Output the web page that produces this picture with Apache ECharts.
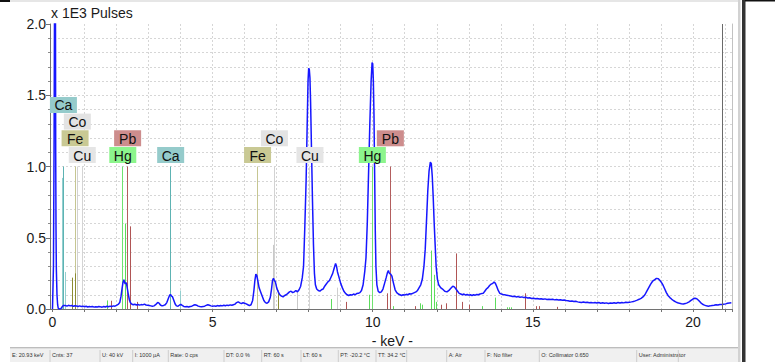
<!DOCTYPE html>
<html><head><meta charset="utf-8">
<script src="https://cdn.jsdelivr.net/npm/echarts@6/dist/echarts.min.js"></script>
<style>html,body{margin:0;padding:0;background:#fff}#c{width:775px;height:362px}</style>
</head><body><div id="c"></div>
<script>
// ---------- DATA ----------
const titleText = 'x 1E3 Pulses';
const xAxisName = '- keV -';
const keVMax = 21.22;           // right end of energy axis
const cursorKeV = 20.93;        // cursor marker
const yTicks = [0, 0.5, 1.0, 1.5, 2.0];

// spectrum [keV, x1E3 pulses]
const spectrumPoints = [
[0.00,0.00],[0.03,0.30],[0.05,1.20],[0.07,2.60],[0.09,2.40],[0.10,1.10],[0.11,0.55],[0.12,0.28],[0.14,0.10],[0.16,0.03],[0.18,0.005],[0.22,0.0],[0.26,0.002],[0.30,0.015],[0.34,0.025],
[0.40,0.024],[0.45,0.020],[0.50,0.026],[0.55,0.022],[0.60,0.025],[0.65,0.019],[0.70,0.023],[0.75,0.021],[0.80,0.018],[0.85,0.022],[0.90,0.017],[0.95,0.020],[1.00,0.016],[1.05,0.019],[1.10,0.014],[1.15,0.018],[1.20,0.015],[1.25,0.017],[1.30,0.013],[1.35,0.016],[1.40,0.014],[1.45,0.018],[1.50,0.015],[1.55,0.013],[1.60,0.017],[1.65,0.014],[1.70,0.019],[1.75,0.016],[1.80,0.020],[1.85,0.018],[1.90,0.022],[1.95,0.020],
[2.00,0.026],[2.05,0.032],[2.10,0.045],[2.14,0.09],[2.17,0.14],[2.20,0.185],[2.23,0.205],[2.25,0.19],[2.27,0.175],[2.29,0.185],[2.31,0.18],[2.34,0.14],[2.37,0.10],[2.40,0.065],[2.43,0.045],[2.47,0.035],[2.52,0.03],[2.57,0.033],[2.62,0.028],[2.67,0.032],[2.72,0.027],[2.77,0.031],[2.82,0.029],[2.87,0.034],[2.92,0.028],[2.97,0.026],
[3.02,0.024],[3.07,0.022],[3.12,0.02],[3.17,0.022],[3.22,0.03],[3.27,0.042],[3.30,0.046],[3.33,0.04],[3.37,0.028],[3.42,0.022],[3.47,0.025],[3.52,0.03],[3.57,0.045],[3.62,0.075],[3.66,0.098],[3.69,0.10],[3.72,0.09],[3.75,0.085],[3.79,0.06],[3.83,0.035],[3.87,0.022],[3.92,0.02],[3.97,0.028],
[4.01,0.032],[4.05,0.025],[4.10,0.018],[4.15,0.015],[4.20,0.017],[4.25,0.014],[4.30,0.018],[4.35,0.02],[4.40,0.026],[4.45,0.03],[4.50,0.027],[4.55,0.02],[4.60,0.017],[4.65,0.015],[4.70,0.018],[4.75,0.02],[4.80,0.025],[4.85,0.03],[4.90,0.026],[4.95,0.022],
[5.00,0.02],[5.05,0.022],[5.10,0.019],[5.15,0.024],[5.20,0.021],[5.25,0.025],[5.30,0.022],[5.35,0.026],[5.40,0.023],[5.45,0.027],[5.50,0.025],[5.55,0.029],[5.60,0.026],[5.65,0.03],[5.70,0.034],[5.75,0.045],[5.80,0.05],[5.85,0.043],[5.90,0.038],[5.95,0.044],
[6.00,0.04],[6.05,0.036],[6.10,0.03],[6.15,0.024],[6.20,0.03],[6.25,0.06],[6.29,0.13],[6.32,0.2],[6.35,0.245],[6.38,0.235],[6.41,0.2],[6.45,0.15],[6.50,0.12],[6.55,0.09],[6.60,0.06],[6.65,0.045],[6.70,0.04],[6.75,0.05],[6.80,0.08],[6.84,0.14],[6.87,0.2],[6.90,0.215],[6.93,0.2],[6.96,0.19],
[7.00,0.15],[7.05,0.12],[7.10,0.1],[7.15,0.09],[7.20,0.085],[7.25,0.095],[7.30,0.1],[7.35,0.11],[7.40,0.12],[7.45,0.125],[7.50,0.115],[7.55,0.12],[7.60,0.13],[7.65,0.12],[7.70,0.135],[7.75,0.16],[7.80,0.22],[7.84,0.3],[7.88,0.58],[7.92,0.9],[7.95,1.25],[7.98,1.6],
[8.00,1.69],[8.02,1.68],[8.04,1.62],[8.06,1.45],[8.09,1.1],[8.12,0.75],[8.15,0.45],[8.18,0.25],[8.21,0.17],[8.25,0.14],[8.30,0.13],[8.35,0.125],[8.40,0.135],[8.45,0.14],[8.50,0.16],[8.55,0.175],[8.60,0.19],[8.65,0.2],[8.70,0.225],[8.75,0.25],[8.80,0.29],[8.84,0.32],[8.87,0.3],[8.90,0.26],[8.95,0.22],
[9.00,0.18],[9.05,0.15],[9.10,0.125],[9.15,0.11],[9.20,0.1],[9.25,0.095],[9.30,0.1],[9.35,0.098],[9.40,0.105],[9.45,0.1],[9.50,0.108],[9.55,0.11],[9.60,0.115],[9.65,0.13],[9.70,0.17],[9.75,0.26],[9.79,0.36],[9.83,0.6],[9.87,0.95],[9.91,1.3],[9.95,1.6],[9.98,1.73],
[10.00,1.72],[10.02,1.6],[10.04,1.35],[10.06,0.95],[10.08,0.55],[10.10,0.3],[10.13,0.17],[10.17,0.125],[10.22,0.115],[10.27,0.12],[10.32,0.14],[10.37,0.18],[10.42,0.22],[10.46,0.255],[10.49,0.27],[10.52,0.25],[10.56,0.245],[10.60,0.23],[10.65,0.18],[10.70,0.135],[10.75,0.115],[10.80,0.105],[10.85,0.1],[10.90,0.095],[10.95,0.1],
[11.00,0.098],[11.05,0.103],[11.10,0.1],[11.15,0.107],[11.20,0.105],[11.25,0.11],[11.30,0.115],[11.35,0.12],[11.40,0.13],[11.45,0.15],[11.50,0.17],[11.55,0.21],[11.60,0.3],[11.64,0.42],[11.68,0.62],[11.72,0.83],[11.76,0.97],[11.80,1.03],[11.83,1.02],[11.86,0.93],[11.89,0.78],[11.92,0.6],[11.95,0.45],[11.98,0.3],
[12.02,0.21],[12.06,0.17],[12.12,0.15],[12.18,0.14],[12.25,0.125],[12.32,0.12],[12.38,0.13],[12.44,0.145],[12.50,0.16],[12.55,0.155],[12.60,0.14],[12.65,0.125],[12.70,0.11],[12.75,0.105],[12.80,0.1],[12.85,0.105],[12.90,0.098],[12.95,0.102],
[13.00,0.097],[13.05,0.1],[13.10,0.095],[13.15,0.1],[13.20,0.097],[13.25,0.102],[13.30,0.1],[13.35,0.105],[13.40,0.108],[13.45,0.11],[13.50,0.125],[13.55,0.14],[13.60,0.15],[13.65,0.165],[13.70,0.175],[13.75,0.18],[13.79,0.19],[13.83,0.18],[13.87,0.16],[13.92,0.13],[13.97,0.11],
[14.02,0.105],[14.07,0.102],[14.12,0.1],[14.18,0.097],[14.24,0.094],[14.30,0.092],[14.36,0.088],[14.42,0.09],[14.48,0.085],[14.54,0.087],[14.60,0.082],[14.66,0.085],[14.72,0.08],[14.78,0.082],[14.84,0.077],[14.90,0.079],[14.96,0.074],
[15.02,0.076],[15.08,0.072],[15.14,0.074],[15.20,0.07],[15.26,0.072],[15.32,0.068],[15.38,0.071],[15.44,0.067],[15.50,0.069],[15.56,0.066],[15.62,0.068],[15.68,0.064],[15.74,0.067],[15.80,0.063],[15.86,0.065],[15.92,0.061],[15.98,0.063],
[16.04,0.059],[16.10,0.058],[16.16,0.055],[16.22,0.056],[16.28,0.052],[16.34,0.054],[16.40,0.05],[16.46,0.048],[16.52,0.046],[16.58,0.049],[16.64,0.045],[16.70,0.047],[16.76,0.044],[16.82,0.046],[16.88,0.043],[16.94,0.045],
[17.00,0.042],[17.06,0.045],[17.12,0.041],[17.18,0.044],[17.24,0.04],[17.30,0.043],[17.36,0.039],[17.42,0.042],[17.48,0.04],[17.54,0.044],[17.60,0.041],[17.66,0.045],[17.72,0.042],[17.78,0.046],[17.84,0.043],[17.90,0.047],[17.96,0.045],
[18.02,0.048],[18.08,0.05],[18.14,0.053],[18.20,0.057],[18.26,0.062],[18.32,0.068],[18.38,0.075],[18.44,0.085],[18.50,0.1],[18.56,0.125],[18.62,0.15],[18.68,0.175],[18.74,0.195],[18.80,0.205],[18.86,0.215],[18.92,0.212],[18.97,0.2],
[19.02,0.185],[19.07,0.165],[19.12,0.14],[19.17,0.115],[19.22,0.095],[19.28,0.08],[19.34,0.068],[19.40,0.058],[19.46,0.05],[19.52,0.044],[19.58,0.04],[19.64,0.037],[19.70,0.035],[19.76,0.038],[19.82,0.043],[19.88,0.05],[19.94,0.06],
[20.00,0.07],[20.06,0.076],[20.12,0.072],[20.18,0.06],[20.24,0.045],[20.30,0.033],[20.36,0.027],[20.42,0.022],[20.48,0.02],[20.54,0.022],[20.60,0.025],[20.66,0.027],[20.72,0.03],[20.78,0.028],[20.84,0.032],[20.90,0.031],[20.96,0.034],
[21.02,0.036],[21.08,0.04],[21.14,0.042],[21.20,0.044],[21.22,0.045]
];

// element lines [element, keV, relative height]
const elementLines = [
['Ca',0.302,0.92],['Ca',0.341,1.0],['Ca',0.42,0.26],['Ca',3.69,1.0],['Ca',4.01,0.13],
['Fe',0.615,0.22],['Fe',0.705,1.0],['Fe',0.718,0.25],['Fe',6.391,0.51],['Fe',6.404,1.0],['Fe',7.058,0.13],
['Co',0.776,1.0],['Co',0.79,0.31],['Co',6.915,0.45],['Co',6.93,1.0],['Co',7.65,0.13],
['Cu',0.93,1.0],['Cu',0.95,0.13],['Cu',8.04,1.0],['Cu',8.905,0.15],
['Hg',1.71,0.06],['Hg',2.195,1.0],['Hg',2.282,0.6],['Hg',8.722,0.07],['Hg',9.898,0.1],['Hg',9.989,1.0],['Hg',10.65,0.02],['Hg',11.48,0.04],['Hg',11.56,0.03],['Hg',11.823,0.41],['Hg',11.924,0.24],['Hg',12.0,0.05],['Hg',13.42,0.02],['Hg',13.83,0.08],['Hg',14.2,0.012],['Hg',14.26,0.012],['Hg',14.32,0.012],
['Pb',1.84,0.058],['Pb',2.346,1.0],['Pb',2.443,0.58],['Pb',2.65,0.05],['Pb',9.185,0.05],['Pb',10.45,0.11],['Pb',10.551,1.0],['Pb',11.35,0.02],['Pb',12.14,0.03],['Pb',12.306,0.04],['Pb',12.614,0.39],['Pb',12.62,0.245],['Pb',12.79,0.05],['Pb',13.01,0.03],['Pb',14.765,0.11],['Pb',15.1,0.02],['Pb',15.2,0.02],['Pb',15.78,0.015]
];
const labelOrder = ['Cu','Hg','Fe','Pb','Co','Ca'];

const statusItems = ['E: 20.93 keV','Cnts: 37','U: 40 kV','I: 1000 µA','Rate: 0 cps','DT: 0.0 %','RT: 60 s','LT: 60 s','PT: -20.2 °C','TT: 34.2 °C','','A: Air','F: No filter','O: Collimator 0.650','User: Administrator',''];

// ---------- STYLE / LAYOUT ----------
const FONT = '"Liberation Sans", Arial, sans-serif';
const elementStyle = {
  Ca:{box:'#95cbcb', main:'#5db3b3', minor:'#93cfcf'},
  Co:{box:'#e3e3e3', main:'#d2d2d2', minor:'#c9c9c9'},
  Fe:{box:'#c9c994', main:'#c6c692', minor:'#8b8b32'},
  Cu:{box:'#e5e5e5', main:'#d4d4d4', minor:'#cfcfcf'},
  Hg:{box:'#8cf58c', main:'#6fe36f', minor:'#5cdc5c'},
  Pb:{box:'#cd8d8d', main:'#b35e5e', minor:'#b05555'}
};
const statusCells = [10,50,100,132.7,168.3,224,261.7,301,338.3,376,406.7,446.7,485,539.3,636.7,678.3];
const statusEnd = 738;
const BOX_W = 27, BOX_H = 16, ROW_STEP = 16.7, BOX_GAP = 3.5;

const labels = [];
labelOrder.forEach(el => elementLines.forEach(l => { if (l[0] === el && l[2] >= 1) labels.push({el, keV: l[1]}); }));

let rowCache = null;
function computeRows(api) {
  const placed = [];
  return labels.map(lb => {
    const cx = api.coord([lb.keV, 0])[0];
    const x0 = cx - BOX_W / 2, x1 = cx + BOX_W / 2;
    let row = 0;
    while (placed.some(p => p.row === row && p.x0 < x1 && x0 < p.x1)) row++;
    placed.push({row, x0, x1});
    return row;
  });
}

const graphics = [];
graphics.push({type:'rect', shape:{x:0,y:0,width:738,height:2}, style:{fill:'#e6e6e6'}, silent:true});
graphics.push({type:'rect', shape:{x:0,y:0,width:10,height:2}, style:{fill:'#111'}, silent:true});
graphics.push({type:'rect', shape:{x:738,y:0,width:2.5,height:362}, style:{fill:'#d2d2d2'}, silent:true});
graphics.push({type:'rect', shape:{x:742,y:0,width:3.5,height:362}, style:{fill:'#333'}, silent:true});
graphics.push({type:'rect', shape:{x:745,y:0,width:30,height:1.5}, style:{fill:'#111'}, silent:true});
graphics.push({type:'rect', shape:{x:10,y:347,width:728,height:1.6}, style:{fill:'#bdbdbd'}, silent:true});
graphics.push({type:'rect', shape:{x:10,y:349,width:728,height:13}, style:{fill:'#f0f0f0'}, silent:true});
statusItems.forEach((t, i) => {
  const x = statusCells[i];
  if (i > 0) graphics.push({type:'rect', shape:{x:x-0.5,y:350,width:1,height:12}, style:{fill:'#cdcdcd'}, silent:true});
  if (t) graphics.push({type:'text', x:x+2, y:355, style:{text:t, font:'5.5px ' + FONT, fill:'#333', verticalAlign:'middle'}, silent:true});
});

const dashed = {color:'#d6d6d6', type:[2,2], width:1};

const option = {
  animation:false,
  backgroundColor:'#fff',
  title:{text:titleText, left:51, top:6, padding:0, textStyle:{fontSize:14, fontWeight:'normal', color:'#1a1a1a', fontFamily:FONT}},
  grid:[
    {left:50, top:24, width:682, height:285},
    {left:52.5, top:24, width:679.5, height:285}
  ],
  xAxis:[
    {gridIndex:0, type:'value', min:0, max:1, position:'top',
     axisLine:{show:true, lineStyle:{color:'#727272'}}, axisTick:{show:false}, axisLabel:{show:false}, splitLine:{show:false}},
    {gridIndex:1, type:'value', min:0, max:keVMax, interval:1, position:'bottom',
     axisLine:{show:true, onZero:false, lineStyle:{color:'#727272'}},
     axisTick:{show:true, length:3, lineStyle:{color:'#727272'}},
     axisLabel:{margin:6, fontSize:14, color:'#1a1a1a', fontFamily:FONT,
       formatter: v => (Math.abs(v - 5*Math.round(v/5)) < 1e-6 ? String(Math.round(v)) : '')},
     splitLine:{show:true, showMinLine:false, showMaxLine:false, lineStyle:dashed},
     name:xAxisName, nameLocation:'middle', nameGap:22,
     nameTextStyle:{fontSize:14, color:'#1a1a1a', fontFamily:FONT}}
  ],
  yAxis:[
    {gridIndex:0, type:'value', min:yTicks[0], max:yTicks[yTicks.length-1], interval:0.5, position:'left',
     axisLine:{show:true, lineStyle:{color:'#727272'}},
     axisTick:{show:true, length:4, lineStyle:{color:'#727272'}},
     minorTick:{show:true, splitNumber:5, length:2, lineStyle:{color:'#8a8a8a'}},
     axisLabel:{margin:4, fontSize:14, color:'#1a1a1a', fontFamily:FONT, formatter: v => v.toFixed(1)},
     splitLine:{show:true, showMinLine:false, showMaxLine:false, lineStyle:dashed},
     minorSplitLine:{show:true, lineStyle:dashed}},
    {gridIndex:0, type:'value', min:0, max:2, position:'right',
     axisLine:{show:true, lineStyle:{color:'#c2c2c2'}}, axisTick:{show:false}, axisLabel:{show:false}, splitLine:{show:false}},
    {gridIndex:1, type:'value', min:0, max:2, show:false}
  ],
  series:[
    {
      type:'custom', xAxisIndex:1, yAxisIndex:2, z:2, clip:true, silent:true,
      data: elementLines.map(l => [l[1], l[2]]),
      renderItem(params, api) {
        const l = elementLines[params.dataIndex];
        const st = elementStyle[l[0]];
        const p0 = api.coord([api.value(0), 0]);
        const p1 = api.coord([api.value(0), api.value(1)]);
        const x = Math.round(p0[0] - 0.5) + 0.5;
        return {type:'line', shape:{x1:x, y1:p0[1], x2:x, y2:p1[1]},
                style:{stroke: l[2] >= 1 ? st.main : st.minor, lineWidth:1}};
      }
    },
    {
      type:'line', xAxisIndex:1, yAxisIndex:2, z:3, showSymbol:false, clip:true, silent:true,
      data: spectrumPoints,
      lineStyle:{color:'#1616ff', width:1.5},
      markLine:{silent:true, symbol:['none','none'], label:{show:false}, animation:false,
        lineStyle:{color:'#6a6a6a', type:'solid', width:1},
        data:[{xAxis:cursorKeV}]}
    },
    {
      type:'custom', xAxisIndex:1, yAxisIndex:2, z:4, clip:false, silent:true,
      data: labels.map(lb => [lb.keV, 1.0]),
      renderItem(params, api) {
        if (!rowCache) rowCache = computeRows(api);
        const lb = labels[params.dataIndex];
        const row = rowCache[params.dataIndex];
        const p = api.coord([api.value(0), api.value(1)]);
        const cx = p[0];
        const bottom = p[1] - BOX_GAP - row * ROW_STEP;
        return {type:'group', children:[
          {type:'rect', shape:{x:cx - BOX_W/2, y:bottom - BOX_H, width:BOX_W, height:BOX_H}, style:{fill:elementStyle[lb.el].box}},
          {type:'text', style:{text:lb.el, x:cx, y:bottom - BOX_H/2 + 0.5, align:'center', verticalAlign:'middle', font:'14px ' + FONT, fill:'#111'}}
        ]};
      }
    }
  ],
  graphic: graphics
};

const chart = echarts.init(document.getElementById('c'), null, {renderer:'svg'});
chart.setOption(option);
</script></body></html>
